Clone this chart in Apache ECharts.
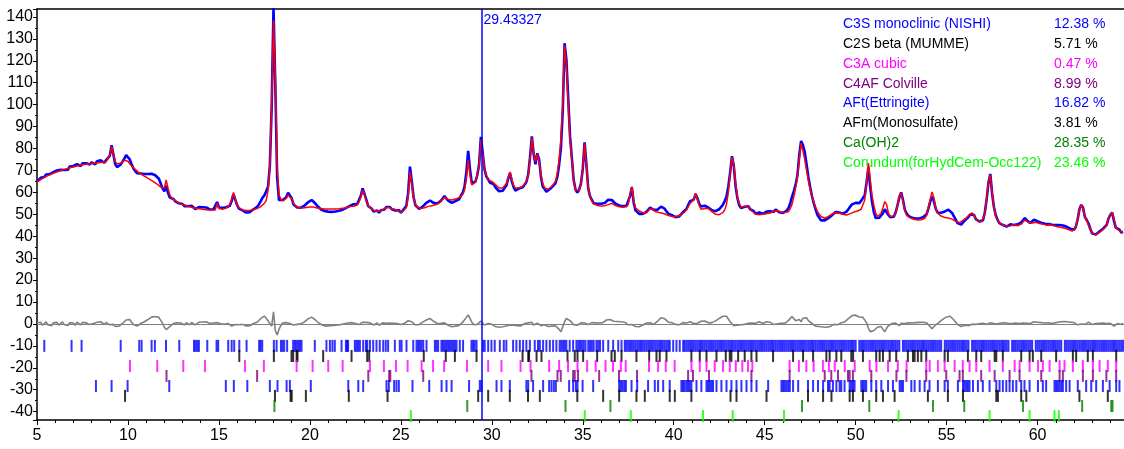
<!DOCTYPE html>
<html><head><meta charset="utf-8">
<script src="https://cdn.jsdelivr.net/npm/echarts@6/dist/echarts.min.js"></script>
<style>html,body{margin:0;padding:0;background:#fff}#c{width:1124px;height:449px}</style>
</head><body><div id="c"></div>
<script>
// ---- data: 2theta grid start/step, calculated intensity, difference (obs - calc) ----
const START = 5.0, STEP = 0.1;
const calc = [
64.5,65.2,65.8,66.3,66.8,67.2,67.6,68.0,68.4,68.7,
69.0,69.3,69.6,69.9,70.2,70.5,70.7,71.0,71.2,71.4,
71.6,71.8,72.0,72.2,72.4,72.5,72.7,72.8,72.9,73.0,
73.1,73.2,73.3,73.4,73.5,73.6,73.7,73.8,74.0,74.6,
77.0,81.0,77.5,74.0,73.0,73.0,73.3,73.8,74.6,75.2,
74.2,73.0,72.0,71.2,70.5,69.7,69.0,68.4,67.9,67.4,
66.9,66.4,65.9,65.4,64.9,64.4,63.8,63.2,62.4,61.5,
62.0,65.7,62.0,58.8,57.5,56.8,56.2,55.7,55.2,54.8,
54.5,54.2,53.9,53.6,53.4,53.2,53.0,52.8,52.6,52.5,
52.4,52.3,52.2,52.1,52.0,52.0,51.9,51.9,52.0,55.0,
52.6,52.3,52.3,52.5,52.8,53.3,54.5,57.0,60.0,57.0,
54.0,53.0,52.4,52.0,51.8,51.7,51.7,51.8,51.9,52.1,
52.3,52.6,53.0,53.5,54.2,55.0,56.2,61.0,72.0,100.0,
138.5,112.0,72.0,59.0,57.0,56.0,56.2,57.2,58.8,59.3,
57.0,55.0,53.8,53.3,53.0,52.9,52.9,53.0,53.1,53.2,
53.3,53.4,53.3,53.1,52.9,52.7,52.6,52.5,52.4,52.4,
52.4,52.4,52.4,52.4,52.4,52.4,52.5,52.6,52.7,52.9,
53.1,53.3,53.5,53.6,53.7,53.8,54.2,55.5,58.0,61.0,
59.0,56.0,54.0,53.0,52.3,51.8,51.5,51.3,51.3,51.6,
52.0,52.5,53.0,53.2,52.9,52.5,52.3,52.2,51.8,51.2,
51.0,51.3,51.8,53.0,58.0,69.5,64.0,57.5,54.5,53.2,
52.8,52.6,52.7,53.0,53.4,53.6,53.8,53.9,54.0,54.3,
54.7,55.1,55.8,56.8,57.8,57.5,56.8,56.5,56.5,56.8,
57.0,57.1,57.5,58.3,59.0,61.0,66.0,74.8,68.0,63.4,
63.8,64.5,68.0,72.0,84.0,77.0,71.0,67.5,65.7,65.0,
65.0,64.6,63.5,62.6,62.0,61.8,62.0,62.6,64.0,66.5,
69.3,66.0,63.0,62.0,61.9,62.1,62.4,62.7,63.3,65.0,
67.5,75.0,84.7,78.0,74.0,77.5,74.0,68.0,64.1,62.0,
61.1,61.4,62.0,62.8,63.5,65.0,68.5,75.0,84.0,100.0,
127.0,118.0,100.0,84.0,75.0,66.0,61.0,60.5,61.0,63.5,
71.0,82.4,72.0,62.0,58.0,56.0,54.8,54.3,54.0,53.8,
53.8,53.8,53.9,54.1,54.4,54.8,55.0,54.5,54.0,53.6,
53.4,53.3,53.2,53.2,53.5,54.5,59.0,62.6,56.0,53.0,
52.2,51.5,51.0,50.7,50.5,50.7,51.3,52.5,53.2,52.2,
51.2,50.8,50.8,50.7,50.5,50.2,49.8,49.5,49.2,49.0,
48.9,48.9,49.1,49.4,49.8,50.3,51.0,52.0,53.5,55.0,
55.3,56.5,59.6,57.0,54.0,52.3,52.4,52.6,52.8,52.6,
52.0,51.2,50.5,50.0,49.7,49.8,50.2,50.8,52.0,54.5,
60.0,68.0,76.0,73.0,64.0,58.0,55.0,53.3,53.3,53.6,
53.8,53.4,52.5,51.5,50.6,50.0,49.8,49.8,49.9,50.0,
50.1,50.2,50.3,50.6,51.0,51.4,51.7,51.7,51.3,51.0,
50.8,50.8,50.8,51.2,52.5,54.5,58.0,62.0,67.0,75.0,
82.4,79.0,75.0,70.0,65.5,61.5,58.0,55.5,53.2,51.2,
50.0,49.0,48.3,48.2,48.5,49.0,49.6,50.1,50.5,50.7,
50.8,50.6,50.3,50.0,49.8,49.7,49.9,50.3,50.7,51.0,
51.2,51.5,51.9,52.3,53.0,56.5,64.0,73.4,66.0,58.5,
54.0,50.5,49.0,49.2,50.5,53.0,55.8,54.5,50.5,49.0,
48.8,49.2,50.5,54.0,58.5,59.7,56.0,52.0,49.5,48.8,
48.3,48.0,47.7,47.5,47.4,47.4,47.5,47.8,48.2,49.5,
53.0,57.0,60.2,57.5,53.0,50.5,49.7,49.2,48.8,48.5,
48.4,48.3,48.1,47.8,47.3,46.8,46.3,46.2,46.5,47.2,
47.8,48.5,49.5,50.3,50.6,49.5,48.0,47.0,46.6,46.5,
47.0,50.0,57.0,65.0,67.9,60.0,53.0,49.0,47.4,46.3,
45.5,45.0,44.7,44.6,44.6,44.7,45.0,45.2,45.0,44.8,
45.0,45.5,46.3,47.4,47.0,46.2,45.8,46.0,46.5,46.4,
46.0,45.8,45.5,45.5,45.3,45.0,45.0,45.2,45.0,44.8,
44.5,44.3,44.2,44.0,43.8,43.6,43.3,43.0,42.6,42.3,
42.3,44.0,48.0,52.0,54.3,52.5,49.0,47.0,45.0,43.0,
41.5,40.6,40.6,41.0,41.8,42.5,43.0,43.5,45.0,48.5,
49.5,51.0,48.0,44.5,43.0,42.5,42.0,41.5
];
const diff = [
0.5,-0.3,0.8,-0.6,0.2,0.9,-0.4,0.3,-0.8,0.5,
-0.2,0.7,-0.5,0.4,0.9,-0.3,0.2,-0.7,0.6,0.1,
0.4,-0.6,0.8,0.2,-0.4,0.7,-0.2,0.5,0.9,-0.3,
0.6,0.2,-0.5,0.8,0.3,1.0,0.4,-0.3,0.7,0.2,
-0.4,0.5,-0.2,-1.2,-1.5,-1.0,-0.6,0.2,0.8,1.8,
2.4,2.0,0.8,-0.3,-0.8,-1.0,-0.6,0.2,0.6,1.0,
1.3,2.0,2.6,3.1,3.3,3.4,3.6,3.0,1.6,0.3,
-1.5,-2.6,-2.2,-1.2,-0.4,0.2,-0.3,0.5,-0.2,0.4,
0.2,-0.5,0.6,0.1,-0.3,0.7,0.3,-0.4,0.5,0.8,
0.3,0.9,0.4,1.0,0.6,0.2,0.8,0.4,-0.2,0.6,
0.5,0.1,0.7,-0.2,0.4,0.2,-0.6,-1.0,-0.8,-0.3,
0.2,-0.4,0.3,-0.2,-0.5,-0.9,-1.1,-0.8,-0.4,0.2,
0.2,0.8,1.5,2.5,3.4,3.6,2.8,1.5,0.2,-1.0,
5.5,-3.0,-5.0,-2.5,-0.8,0.5,-0.3,0.6,1.0,0.2,
0.3,-0.5,0.4,-0.2,0.6,0.1,0.5,0.9,1.5,2.3,
2.8,3.1,2.7,1.8,1.0,0.3,-0.3,-0.6,-0.9,-1.0,
-1.2,-0.8,-1.3,-0.7,-1.1,-0.5,-0.9,-0.3,-0.6,0.1,
-0.2,0.4,0.3,0.6,0.9,0.2,0.5,-0.3,0.4,0.8,
0.3,0.7,-0.2,0.5,0.2,-0.5,-0.3,0.4,-0.6,0.2,
0.5,-0.3,0.3,0.8,0.4,-0.2,0.3,-0.5,0.2,0.6,
-0.3,0.4,0.2,0.8,1.5,2.2,1.0,0.3,-0.4,0.2,
-0.3,0.4,0.8,1.3,1.8,2.3,2.5,2.0,1.2,0.5,
0.2,-0.4,0.3,-0.2,0.5,0.1,-0.6,-1.0,-1.3,-0.8,
-1.0,-0.5,-0.7,0.2,0.8,1.5,3.0,4.1,2.5,0.8,
-0.3,0.4,-0.2,0.6,1.3,1.0,-0.5,-0.3,0.2,-0.6,
-0.2,-0.8,-1.2,-0.9,-1.5,-1.0,-1.3,-0.6,-0.9,-0.2,
-0.5,-1.0,-0.6,-1.2,-0.8,-0.3,-0.9,-0.4,0.2,-0.3,
0.5,0.9,0.8,-0.5,-1.2,0.3,1.0,-0.8,-1.5,-0.4,
-0.8,-1.2,-0.5,-1.0,-0.3,-0.8,-1.5,-2.5,-3.5,-2.8,
1.0,2.5,2.8,1.5,0.6,-0.4,0.3,-0.6,0.2,0.5,
-0.3,0.4,0.8,-0.3,0.2,0.6,0.2,0.5,0.8,0.4,
1.0,0.6,1.2,1.8,2.2,2.0,1.5,1.2,0.8,1.1,
0.6,1.0,0.5,0.8,0.3,-0.4,-0.6,-0.3,-0.8,-1.2,
-0.8,-1.3,-0.9,-0.5,-0.2,0.4,-0.3,0.5,0.2,-0.2,
0.5,1.2,2.0,2.8,3.0,2.4,1.5,0.8,0.3,0.6,
0.3,-0.2,0.5,-0.4,0.1,0.6,-0.3,0.4,0.8,1.0,
0.6,0.2,-0.4,0.3,0.8,1.2,0.9,1.3,0.8,0.5,
0.2,0.6,0.9,1.4,2.0,2.5,3.0,3.5,4.0,3.5,
2.6,1.0,0.5,-0.8,-1.2,-0.6,-0.9,-0.4,-0.8,-0.2,
-0.5,0.3,-0.2,0.4,0.8,0.3,0.6,1.0,0.5,0.2,
0.6,1.0,0.4,0.8,0.2,-0.3,0.5,0.1,-0.4,0.3,
-0.2,0.3,0.8,1.5,2.4,3.4,2.6,1.5,0.8,2.0,
1.0,2.6,3.5,2.8,1.5,0.8,0.2,-0.5,-1.0,-1.5,
-1.2,-1.8,-1.4,-1.0,-1.5,-0.8,-1.2,-0.5,-0.2,0.3,
-0.4,0.2,0.5,0.3,0.9,1.5,2.4,3.2,3.8,4.2,
4.0,3.6,3.2,3.8,3.0,2.2,0.5,-2.0,-3.5,-2.8,
-3.0,-2.2,-1.5,-0.8,-1.2,-2.5,-3.5,-2.0,-0.8,-0.3,
0.2,-0.3,0.4,0.1,-0.8,0.3,0.6,0.2,0.8,0.5,
0.9,0.4,1.0,0.6,1.2,0.7,0.3,0.8,0.2,0.5,
-0.3,-1.2,-2.2,-1.5,-0.4,0.3,0.8,1.5,2.2,2.8,
3.2,3.8,3.5,2.8,1.8,0.8,-0.3,-0.8,-1.2,-1.0,
-0.6,-1.2,-0.8,-0.4,-0.1,0.3,-0.2,0.4,0.1,0.6,
0.3,0.8,-0.2,-0.6,0.5,-0.4,0.2,0.6,0.1,-0.3,
0.4,0.1,0.5,-0.2,0.3,0.7,0.2,-0.1,0.4,0.6,
0.2,0.8,0.4,0.9,0.3,0.6,0.2,0.7,1.0,0.5,
0.8,0.3,0.6,-0.2,0.4,0.1,0.5,-0.3,0.2,0.4,
0.6,0.2,0.9,0.5,1.1,0.7,1.0,0.4,0.8,0.3,
0.6,0.2,-0.4,0.3,0.0,0.5,-0.2,0.4,0.8,0.3,
-0.3,0.5,0.2,0.7,0.3,-0.2,0.4,0.8,0.2,-0.4,
0.3,-0.2,-1.0,-0.6,0.2,0.5,-0.3,0.4
];

// ---- reflection positions (2theta) per phase ----
const reflC3S = [5.40,6.90,7.45,9.60,10.62,10.75,11.30,11.48,12.09,12.82,13.63,13.72,13.81,13.90,14.36,14.87,14.96,15.51,15.70,15.84,16.12,16.52,17.21,17.29,17.38,18.02,18.17,18.41,18.50,18.59,18.75,19.08,19.18,19.27,19.36,
19.45,19.54,20.27,20.91,21.10,21.24,21.37,21.74,21.98,22.05,22.10,22.47,22.56,22.65,22.75,22.93,23.08,23.15,23.30,23.48,23.66,23.84,24.03,24.17,24.30,24.67,24.94,25.04,25.31,25.68,25.86,25.95,26.04,26.13,26.23,26.41,26.87,26.96,27.05,27.23,27.32,27.42,27.51,27.60,27.69,27.78,27.87,27.97,28.06,28.24,28.42,28.88,28.97,29.06,29.16,29.52,29.61,29.80,29.98,30.16,30.44,30.66,30.80,31.17,31.35,31.54,31.72,31.90,32.09,32.36,32.54,32.64,32.82,33.00,33.19,33.37,33.55,33.73,33.82,33.92,34.01,34.10,34.28,34.47,34.65,
34.75,34.85,34.95,35.05,35.15,35.30,35.40,35.50,35.60,35.75,35.85,35.95,36.12,36.40,36.67,36.95,37.13,37.31,
37.4,37.5,37.6,37.7,37.8,37.9,38.0,38.1,38.2,38.3,38.4,38.5,38.6,38.7,38.8,38.9,39.0,39.1,39.2,39.3,39.4,39.5,39.6,39.7,39.78,39.97,40.15,40.33,40.52,
40.6,40.7,40.8,40.9,41.0,41.1,41.2,41.3,41.4,41.5,41.6,41.7,41.8,41.9,42.0,42.1,42.2,42.3,42.4,42.5,42.6,42.7,42.8,42.9,
43.0,43.1,43.2,43.3,43.4,43.5,43.6,43.7,43.8,43.9,44.0,44.1,44.2,44.3,44.4,44.5,44.6,44.7,44.8,44.9,
45.0,45.1,45.2,45.3,45.4,45.5,45.6,45.7,45.8,45.9,46.0,46.1,46.2,46.3,46.4,46.5,46.6,46.7,46.8,46.9,
47.0,47.1,47.2,47.3,47.4,47.5,47.6,47.7,47.8,47.9,48.0,48.1,48.2,48.3,48.4,48.5,48.6,48.7,48.8,48.9,
49.0,49.1,49.2,49.3,49.4,49.5,49.6,49.7,49.8,49.9,50.0,50.2,50.3,50.4,50.5,50.6,50.7,50.8,50.9,
51.0,51.1,51.2,51.3,51.4,51.5,51.6,51.7,51.8,51.9,52.0,52.1,52.2,52.3,52.4,52.6,52.7,52.8,52.9,
53.0,53.1,53.2,53.3,53.4,53.5,53.6,53.7,53.8,53.9,54.0,54.1,54.2,54.3,54.4,54.5,54.6,54.7,54.9,
55.0,55.1,55.2,55.3,55.4,55.5,55.6,55.7,55.8,55.9,56.0,56.1,56.2,56.4,56.5,56.6,56.7,56.8,56.9,
57.0,57.1,57.2,57.3,57.4,57.5,57.6,57.7,57.8,57.9,58.0,58.1,58.2,58.3,58.4,58.6,58.7,58.8,58.9,
59.0,59.1,59.2,59.3,59.4,59.5,59.6,59.7,59.9,60.0,60.1,60.2,60.3,60.4,60.5,60.6,60.7,60.8,60.9,
61.0,61.1,61.2,61.3,61.5,61.6,61.7,61.8,61.9,62.0,62.1,62.2,62.3,62.4,62.5,62.6,62.7,62.8,62.9,
63.0,63.1,63.2,63.3,63.4,63.5,63.6,63.7,63.8,63.9,64.0,64.1,64.2,64.3,64.4,64.5,64.6,64.7];
const reflC2S = [16.12,18.02,18.99,19.08,19.27,19.32,20.73,22.29,23.15,23.26,26.26,27.47,27.97,29.16,31.69,32.00,32.05,32.46,32.73,34.16,34.56,34.71,35.02,35.79,36.58,36.76,37.13,37.95,38.65,39.05,39.23,39.60,40.97,41.43,41.80,42.35,42.86,43.08,43.17,43.54,43.90,44.27,44.55,45.46,46.56,47.11,47.66,48.39,48.57,48.94,49.21,49.76,49.86,50.40,51.13,51.32,51.50,51.87,52.23,52.87,53.15,53.24,53.42,53.61,53.88,54.89,55.07,56.17,56.63,56.90,57.64,57.73,58.09,59.10,59.56,59.74,60.20,61.02,61.94,62.12,62.76,63.04,64.32];
const reflC3A = [10.11,11.61,13.04,14.23,16.43,17.47,19.27,20.15,21.01,21.80,23.30,24.07,24.73,25.37,26.14,26.77,27.38,28.64,29.80,30.53,31.58,32.13,33.15,33.70,34.19,34.71,35.24,35.71,36.25,36.66,37.09,37.36,38.64,39.14,39.56,40.05,40.97,41.43,41.80,42.25,42.71,43.08,43.41,43.77,44.08,44.32,46.37,46.88,47.29,47.69,48.20,48.53,48.85,49.40,49.95,50.77,51.14,51.78,52.32,52.80,53.88,54.07,54.52,54.89,55.44,55.89,56.26,56.63,57.36,58.09,58.74,59.01,59.56,60.02,60.29,60.66,61.21,61.48,61.94,62.49,63.04,63.41,63.86,64.32];
const reflC4AF = [12.12,17.10,23.21,24.36,24.42,26.23,32.18,33.61,33.79,34.47,34.56,34.74,35.90,36.99,37.98,40.79,41.06,41.94,44.27,46.37,48.30,48.66,49.03,49.58,49.67,49.85,50.86,52.24,52.79,53.88,54.98,55.71,55.89,56.90,57.64,58.46,59.01,60.20,61.21,61.39,62.49,63.04,63.78,64.32];
const reflAFt = [8.24,9.10,9.98,12.27,15.38,15.82,16.56,17.80,18.22,18.72,18.90,20.05,22.11,22.66,22.93,24.21,24.34,24.63,24.76,24.89,25.64,26.56,27.24,27.51,27.79,28.75,29.34,29.43,30.26,30.53,30.99,31.90,32.00,32.27,32.82,33.15,33.28,33.41,33.52,34.25,34.47,34.62,34.71,34.99,35.57,37.00,37.09,37.18,37.28,37.37,37.68,37.99,38.59,38.96,39.14,39.42,39.78,40.42,40.51,40.60,40.70,40.79,40.88,40.97,41.25,41.52,41.80,41.89,41.98,42.07,42.16,42.35,42.62,42.90,43.17,43.45,43.72,44.00,44.27,44.55,45.19,45.92,46.01,46.10,46.19,46.29,46.38,46.56,46.84,47.38,47.66,47.93,48.21,48.48,48.57,48.75,48.94,49.12,49.21,49.39,49.67,49.76,49.85,49.94,50.31,50.40,50.49,50.58,50.86,51.13,51.41,51.78,52.05,52.42,52.51,52.60,53.06,53.24,53.52,53.79,54.06,54.52,54.89,55.07,55.62,55.90,55.99,56.08,56.17,56.26,56.45,56.72,56.99,57.36,57.73,57.91,58.09,58.28,58.46,58.64,58.83,59.10,59.28,59.56,60.02,60.29,60.47,60.93,61.02,61.11,61.20,61.30,61.39,61.57,61.76,62.21,62.67,62.95,63.22,63.59,63.96,64.32,64.50];
const reflAFm = [9.84,18.08,18.94,19.00,19.78,22.14,24.27,29.25,29.80,30.99,31.99,32.64,34.70,36.12,37.00,37.95,38.41,39.78,40.06,40.97,43.12,43.45,45.10,47.38,48.21,48.67,49.67,49.85,50.40,51.13,51.50,52.14,53.97,55.07,55.90,57.73,57.82,59.10,59.38,62.30,63.86];
const reflCH = [18.05,28.65,34.05,36.52,47.05,50.75,54.25,55.97,59.20,62.45,64.05,64.12];
const reflCor = [25.55,35.11,37.64,41.61,43.24,46.06,52.36,57.36,59.56,60.93,61.17];

const phaseNames = ['C3S monoclinic (NISHI)','C2S beta (MUMME)','C3A cubic','C4AF Colville','AFt(Ettringite)','AFm(Monosulfate)','Ca(OH)2','Corundum(forHydCem-Occ122)'];
const phasePct = ['12.38 %','5.71 %','0.47 %','8.99 %','16.82 %','3.81 %','28.35 %','23.46 %'];
const phaseRefl = [reflC3S, reflC2S, reflC3A, reflC4AF, reflAFt, reflAFm, reflCH, reflCor];
const CURSOR = 29.43327;
const CURSOR_LABEL = '29.43327';

// ---- styles ----
const phaseColors = ['#0000ff','#000000','#ff00ff','#800080','#0000ff','#000000','#008000','#00ff00'];
const rowLevel = [-10, -14.6, -19.2, -23.7, -28.3, -32.8, -37.4, -42];
const FONT = 'Liberation Sans, Arial, sans-serif';

const n = Math.min(calc.length, diff.length);
const calcPts = [], obsPts = [], diffPts = [];
for (let i = 0; i < n; i++) {
  const t = Math.round((START + i * STEP) * 100) / 100;
  calcPts.push([t, calc[i]]);
  obsPts.push([t, Math.round((calc[i] + diff[i]) * 100) / 100]);
  diffPts.push([t, diff[i]]);
}

const series = [
  {type:'line', name:'obs', data: obsPts, showSymbol:false, symbol:'none', animation:false, z:2,
   lineStyle:{color:'#0000ff', width:2.6}},
  {type:'line', name:'calc', data: calcPts, showSymbol:false, symbol:'none', animation:false, z:3,
   lineStyle:{color:'#ff0000', width:1.5}},
  {type:'line', name:'diff', data: diffPts, showSymbol:false, symbol:'none', animation:false, z:3,
   lineStyle:{color:'#808080', width:1.6},
   markLine:{silent:true, symbol:['none','none'], animation:false, label:{show:false},
     data:[{yAxis:0, lineStyle:{color:'#808080', width:1, type:'solid'}},
           {xAxis:CURSOR, lineStyle:{color:'#0000ff', width:1.5, type:'solid'}}]}}
];
phaseRefl.forEach((arr, k) => {
  series.push({type:'scatter', data: arr.map(t => [t, rowLevel[k]]), symbol:'rect', symbolSize:[2,12],
    itemStyle:{color: phaseColors[k]}, animation:false, silent:true, z:4});
});

const axisText = {color:'#000', fontSize:16, fontFamily:FONT};
const option = {
  animation:false,
  backgroundColor:'#fff',
  grid:{left:37, right:0, top:9, bottom:29, containLabel:false},
  xAxis:[{type:'value', min:5, max:64.75, interval:5,
    axisLine:{show:true, onZero:false, lineStyle:{color:'#000', width:1.5}},
    axisTick:{show:true, length:5, lineStyle:{color:'#000'}},
    minorTick:{show:true, splitNumber:5, length:3, lineStyle:{color:'#000'}},
    splitLine:{show:false},
    axisLabel:Object.assign({margin:8, showMaxLabel:false}, axisText)},
   {type:'value', position:'top', min:5, max:64.75, axisLine:{show:true, onZero:false, lineStyle:{color:'#000', width:1.5}},
    axisTick:{show:false}, axisLabel:{show:false}, splitLine:{show:false}}],
  yAxis:{type:'value', min:-43.8, max:143.6, splitNumber:18,
    axisLine:{show:true, onZero:false, lineStyle:{color:'#000', width:1.5}},
    axisTick:{show:true, length:4, lineStyle:{color:'#000'}},
    minorTick:{show:true, splitNumber:2, length:2, lineStyle:{color:'#000'}},
    splitLine:{show:false},
    axisLabel:Object.assign({margin:4, showMinLabel:false, showMaxLabel:false}, axisText)},
  series
};

const chart = echarts.init(document.getElementById('c'));
chart.setOption(option);
const lx = chart.convertToPixel({xAxisIndex:0}, CURSOR);
const graphics = [];
phaseNames.forEach((name, k) => {
  const y = 24 + 19.9 * k;
  graphics.push({type:'text', x:843, y:y, z:0, silent:true,
    style:{text:name, fill:phaseColors[k], font:'14px ' + FONT, verticalAlign:'middle', align:'left'}});
  graphics.push({type:'text', x:1054, y:y, z:0, silent:true,
    style:{text:phasePct[k], fill:phaseColors[k], font:'14px ' + FONT, verticalAlign:'middle', align:'left'}});
});
graphics.push({type:'text', x:lx + 2, y:20, z:5, silent:true,
  style:{text:CURSOR_LABEL, fill:'#0000ff', font:'14px ' + FONT, verticalAlign:'middle', align:'left'}});
chart.setOption({graphic: graphics});
</script></body></html>
